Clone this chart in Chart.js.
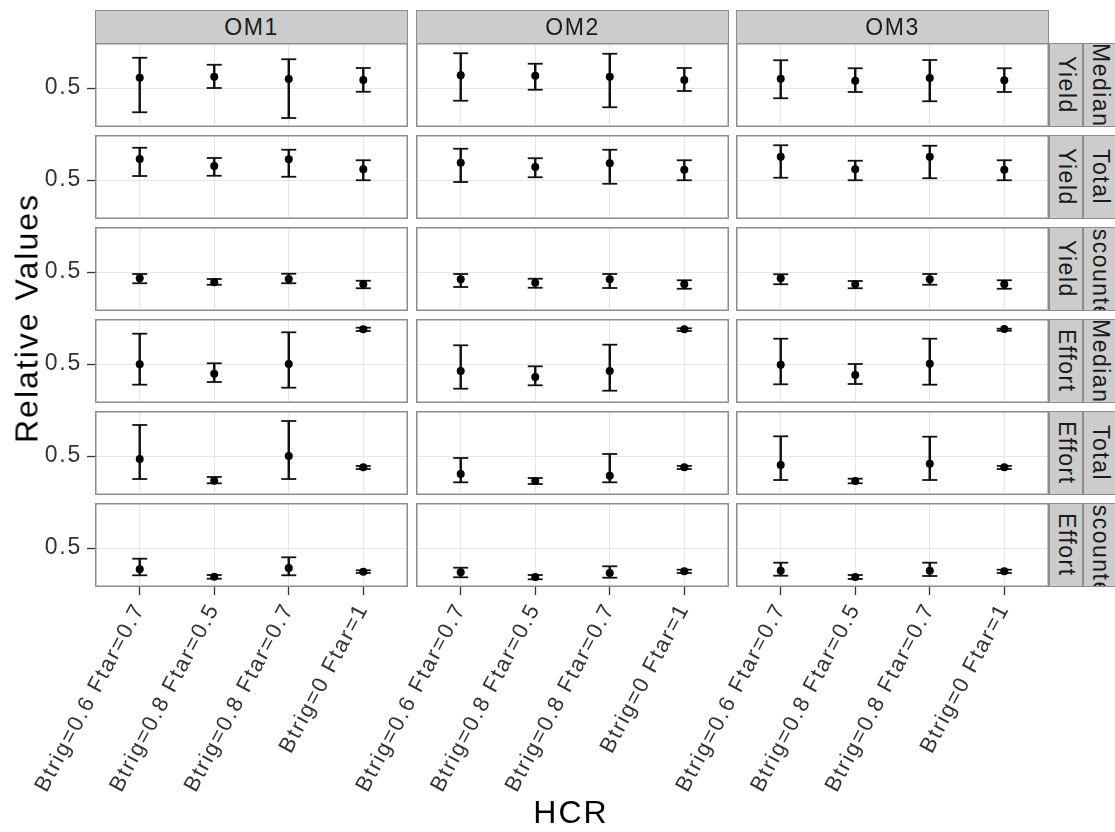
<!DOCTYPE html>
<html>
<head>
<meta charset="utf-8">
<title>Relative Values by HCR</title>
<script src="https://cdn.jsdelivr.net/npm/chart.js@4.4.1/dist/chart.umd.min.js"></script>
<style>
  html, body { margin: 0; padding: 0; background: #fff; overflow: hidden; }
  #fig { position: relative; width: 1115px; height: 832px; overflow: hidden;
         font-family: "Liberation Sans", Arial, Helvetica, sans-serif; }
  #fig canvas { position: absolute; }
  .strip { position: absolute; background: #cccccc; border: 1.5px solid #8c8c8c; box-sizing: border-box;
           display: flex; align-items: center; justify-content: center; overflow: hidden;
           color: #1a1a1a; font-size: 23px; letter-spacing: 1.5px; white-space: nowrap; }
  .strip.v span { writing-mode: vertical-rl; }
  .title { position: absolute; font-size: 32px; letter-spacing: 2px; color: #000; white-space: nowrap;
           transform: translate(-50%, -50%); }
  .title.rot { transform: translate(-50%, -50%) rotate(-90deg); }
</style>
</head>
<body>
<div id="fig"></div>
<script>
// Harvest control rules on the x axis, operating models across the columns
const hcrLabels = ['Btrig=0.6 Ftar=0.7', 'Btrig=0.8 Ftar=0.5', 'Btrig=0.8 Ftar=0.7', 'Btrig=0 Ftar=1'];
const omLabels = ['OM1', 'OM2', 'OM3'];
const statLabels = ['Median', 'Total', 'Discounted', 'Median', 'Total', 'Discounted'];
const quantityLabels = ['Yield', 'Yield', 'Yield', 'Effort', 'Effort', 'Effort'];
const yTickValues = [0.5];

// Each array: one row per OM, one value per HCR (point = central value, low/high = interval)
const medianYieldMid  = [[0.541, 0.545, 0.536, 0.532], [0.551, 0.549, 0.545, 0.532], [0.537, 0.529, 0.540, 0.531]];
const medianYieldLow  = [[0.403, 0.500, 0.380, 0.485], [0.449, 0.493, 0.423, 0.488], [0.459, 0.484, 0.447, 0.484]];
const medianYieldHigh = [[0.621, 0.593, 0.615, 0.580], [0.639, 0.597, 0.637, 0.580], [0.611, 0.579, 0.612, 0.579]];

const totalYieldMid  = [[0.584, 0.556, 0.583, 0.543], [0.569, 0.552, 0.567, 0.541], [0.593, 0.543, 0.593, 0.541]];
const totalYieldLow  = [[0.516, 0.517, 0.513, 0.499], [0.492, 0.511, 0.485, 0.499], [0.509, 0.499, 0.507, 0.499]];
const totalYieldHigh = [[0.629, 0.588, 0.621, 0.579], [0.625, 0.587, 0.621, 0.579], [0.639, 0.577, 0.637, 0.579]];

const discYieldMid  = [[0.475, 0.459, 0.472, 0.451], [0.471, 0.457, 0.471, 0.451], [0.475, 0.451, 0.471, 0.451]];
const discYieldLow  = [[0.455, 0.449, 0.455, 0.435], [0.440, 0.437, 0.436, 0.433], [0.451, 0.435, 0.449, 0.433]];
const discYieldHigh = [[0.492, 0.472, 0.493, 0.465], [0.492, 0.473, 0.492, 0.467], [0.491, 0.464, 0.492, 0.467]];

const medianEffortMid  = [[0.497, 0.403, 0.500, 0.847], [0.430, 0.370, 0.430, 0.847], [0.493, 0.390, 0.503, 0.850]];
const medianEffortLow  = [[0.293, 0.320, 0.263, 0.830], [0.253, 0.287, 0.233, 0.830], [0.297, 0.300, 0.293, 0.833]];
const medianEffortHigh = [[0.803, 0.507, 0.817, 0.863], [0.687, 0.477, 0.693, 0.857], [0.753, 0.500, 0.753, 0.853]];

const totalEffortMid  = [[0.470, 0.253, 0.500, 0.387], [0.320, 0.250, 0.303, 0.387], [0.410, 0.250, 0.423, 0.387]];
const totalEffortLow  = [[0.270, 0.227, 0.270, 0.370], [0.237, 0.220, 0.237, 0.370], [0.260, 0.227, 0.260, 0.370]];
const totalEffortHigh = [[0.810, 0.290, 0.850, 0.400], [0.480, 0.280, 0.520, 0.400], [0.697, 0.273, 0.693, 0.400]];

const discEffortMid  = [[0.287, 0.213, 0.300, 0.263], [0.257, 0.210, 0.250, 0.267], [0.273, 0.210, 0.273, 0.267]];
const discEffortLow  = [[0.227, 0.193, 0.227, 0.250], [0.207, 0.187, 0.203, 0.250], [0.223, 0.190, 0.220, 0.250]];
const discEffortHigh = [[0.393, 0.230, 0.407, 0.277], [0.303, 0.230, 0.317, 0.283], [0.353, 0.230, 0.353, 0.283]];

const rowMid  = [medianYieldMid, totalYieldMid, discYieldMid, medianEffortMid, totalEffortMid, discEffortMid];
const rowLow  = [medianYieldLow, totalYieldLow, discYieldLow, medianEffortLow, totalEffortLow, discEffortLow];
const rowHigh = [medianYieldHigh, totalYieldHigh, discYieldHigh, medianEffortHigh, totalEffortHigh, discEffortHigh];

// Free y scales: one range for the yield rows, one for the effort rows
const yieldRange = [0.344, 0.68];
const effortRange = [0.11, 0.95];
const rowRange = [yieldRange, yieldRange, yieldRange, effortRange, effortRange, effortRange];

// Facet grid geometry
const panelLefts = [95, 416, 736];
const panelW = 313;
const rowTops = [43, 135, 227, 319, 411, 503];
const panelH = 84;
const FONT = '"Liberation Sans", Arial, Helvetica, sans-serif';
const INK = '#333333';
const BAR = '#111111';

const fig = document.getElementById('fig');

const textSpacing = {
  id: 'textSpacing',
  beforeDraw(chart) { chart.ctx.letterSpacing = '1.8px'; }
};
const panelBorder = {
  id: 'panelBorder',
  afterDraw(chart) {
    const { ctx, chartArea: a } = chart;
    ctx.save();
    ctx.strokeStyle = '#8c8c8c';
    ctx.lineWidth = 1.5;
    ctx.strokeRect(a.left + 0.75, a.top + 0.75, a.right - a.left - 1.5, a.bottom - a.top - 1.5);
    ctx.restore();
  }
};

function makePanel(r, c) {
  const leftPad = c === 0 ? 95 : 120;
  const bottomPad = r === 5 ? 245 : 0;
  const cv = document.createElement('canvas');
  cv.width = leftPad + panelW;
  cv.height = panelH + bottomPad;
  cv.style.left = (panelLefts[c] - leftPad) + 'px';
  cv.style.top = rowTops[r] + 'px';
  fig.appendChild(cv);

  const mid = rowMid[r][c], low = rowLow[r][c], high = rowHigh[r][c];
  const stems = mid.map((_, i) => ({ x: i, y: [low[i], high[i]] }));
  const caps = mid.flatMap((_, i) => [{ x: i, y: low[i] }, { x: i, y: high[i] }]);
  const points = mid.map((v, i) => ({ x: i, y: v }));
  const showY = c === 0, showX = r === 5;

  new Chart(cv, {
    type: 'bar',
    data: {
      datasets: [
        { type: 'scatter', data: points, order: 0, pointStyle: 'circle', pointRadius: 4,
          pointBackgroundColor: '#000', pointBorderWidth: 0 },
        { type: 'scatter', data: caps, order: 1, pointStyle: 'line', pointRadius: 7.5,
          pointBorderColor: BAR, pointBorderWidth: 1.8 },
        { type: 'bar', data: stems, order: 2, backgroundColor: BAR, barThickness: 1.8,
          borderWidth: 0 }
      ]
    },
    options: {
      responsive: false,
      animation: false,
      events: [],
      layout: { padding: 0, autoPadding: false },
      plugins: { legend: { display: false }, tooltip: { enabled: false } },
      scales: {
        x: {
          type: 'linear', min: -0.6, max: 3.6, offset: false,
          afterBuildTicks: s => { s.ticks = hcrLabels.map((_, i) => ({ value: i })); },
          afterFit: s => { s.height = bottomPad; s.paddingLeft = 0; s.paddingRight = 0; },
          border: { display: false },
          grid: { offset: false, color: '#e6e6e6', lineWidth: 1, drawTicks: showX, tickLength: 8,
                  tickColor: INK, tickWidth: 1.3 },
          ticks: {
            display: showX, autoSkip: false, minRotation: 62, maxRotation: 62, padding: 4,
            color: INK, font: { family: FONT, size: 22 },
            callback: v => hcrLabels[v]
          }
        },
        y: {
          type: 'linear', min: rowRange[r][0], max: rowRange[r][1],
          afterBuildTicks: s => { s.ticks = yTickValues.map(v => ({ value: v })); },
          afterFit: s => { s.width = leftPad; s.paddingTop = 0; s.paddingBottom = 0; },
          border: { display: false },
          grid: { color: '#e6e6e6', lineWidth: 1, drawTicks: showY, tickLength: 8,
                  tickColor: INK, tickWidth: 1.3 },
          ticks: {
            display: showY, padding: 5, color: INK, font: { family: FONT, size: 23 },
            callback: v => String(v)
          }
        }
      }
    },
    plugins: [textSpacing, panelBorder]
  });
}

for (let r = 0; r < rowTops.length; r++) {
  for (let c = 0; c < panelLefts.length; c++) makePanel(r, c);
}

// Column strips
omLabels.forEach((lab, c) => {
  const d = document.createElement('div');
  d.className = 'strip';
  Object.assign(d.style, { left: panelLefts[c] + 'px', top: '10px', width: panelW + 'px', height: '34px' });
  d.textContent = lab;
  fig.appendChild(d);
});

// Row strips: quantity on the inner strip, statistic on the outer one
rowTops.forEach((top, r) => {
  [[quantityLabels[r], 1049], [statLabels[r], 1083]].forEach(([lab, left]) => {
    const d = document.createElement('div');
    d.className = 'strip v';
    Object.assign(d.style, { left: left + 'px', top: top + 'px', width: '34px', height: panelH + 'px' });
    const s = document.createElement('span');
    s.textContent = lab;
    d.appendChild(s);
    fig.appendChild(d);
  });
});

// Axis titles
const yTitle = document.createElement('div');
yTitle.className = 'title rot';
Object.assign(yTitle.style, { left: '27px', top: '318px' });
yTitle.textContent = 'Relative Values';
fig.appendChild(yTitle);

const xTitle = document.createElement('div');
xTitle.className = 'title';
Object.assign(xTitle.style, { left: '571px', top: '812px' });
xTitle.textContent = 'HCR';
fig.appendChild(xTitle);
</script>
</body>
</html>
